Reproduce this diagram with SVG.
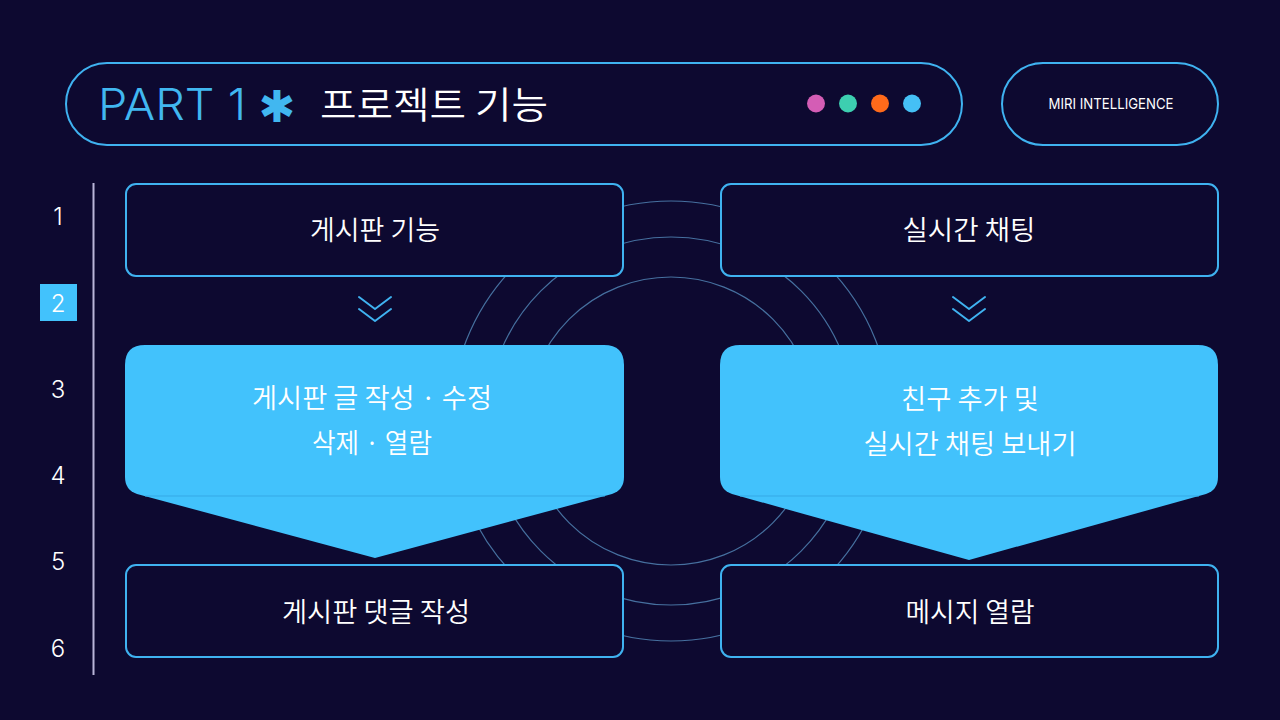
<svg xmlns="http://www.w3.org/2000/svg" width="1280" height="720" viewBox="0 0 1280 720">
  <defs>
    <style>
      .bg { fill: #0d0930; }
      .ring { fill: none; stroke: #46709f; stroke-width: 1.2; }
      .box { fill: #0d0930; stroke: #3fb2f0; stroke-width: 2; }
      .pill { fill: #0d0930; stroke: #3fb2f0; stroke-width: 2; }
      .hl { fill: #42c2fc; }
      .seam { stroke: #34a9e6; stroke-width: 1; }
      .chev { fill: none; stroke: #3fb2f0; stroke-width: 2; stroke-linecap: round; stroke-linejoin: round; }
      .ko { font-family: "Noto Sans CJK KR", "Noto Sans", sans-serif; fill: #ffffff; font-weight: 350; }
      .num { font-family: "Inter", "Liberation Sans", sans-serif; fill: #ffffff; font-weight: 300; font-size: 24px; text-anchor: middle; }
      .lbl { font-size: 27px; text-anchor: middle; }
    </style>
  </defs>

  <rect class="bg" x="0" y="0" width="1280" height="720"/>

  <!-- background rings -->
  <g id="rings">
    <circle class="ring" cx="671" cy="421" r="220"/>
    <circle class="ring" cx="671" cy="421" r="184"/>
    <circle class="ring" cx="671" cy="421" r="144"/>
  </g>

  <!-- header -->
  <g id="header">
    <rect class="pill" x="66" y="63" width="896" height="82" rx="41"/>
    <text x="98" y="120" font-family="Inter, 'Liberation Sans', sans-serif" font-weight="300" font-size="44" fill="#41b7f0" textLength="148" lengthAdjust="spacingAndGlyphs">PART 1</text>
    <text x="277" y="122" font-family="'DejaVu Sans', sans-serif" font-weight="700" font-size="44" fill="#41b7f0" text-anchor="middle">✱</text>
    <text class="ko" x="320" y="119" font-size="37" font-weight="400" textLength="228" lengthAdjust="spacingAndGlyphs">프로젝트 기능</text>
    <circle cx="816" cy="103.5" r="9" fill="#d45db5"/>
    <circle cx="848" cy="103.5" r="9" fill="#3dcfb0"/>
    <circle cx="880" cy="103.5" r="9" fill="#ff6a1a"/>
    <circle cx="912" cy="103.5" r="9" fill="#45c0f5"/>
  </g>

  <g id="brand">
    <rect class="pill" x="1002" y="63" width="216" height="82" rx="41"/>
    <text x="1111" y="108.5" font-family="Inter, 'Liberation Sans', sans-serif" font-size="15" fill="#ffffff" text-anchor="middle" textLength="125" lengthAdjust="spacingAndGlyphs">MIRI INTELLIGENCE</text>
  </g>

  <!-- step index -->
  <g id="steps">
    <line x1="93.5" y1="183" x2="93.5" y2="675" stroke="#b9b5d8" stroke-width="2"/>
    <rect x="40" y="284" width="37" height="37" fill="#42c2fc"/>
    <text class="num" x="58" y="225">1</text>
    <text class="num" x="58" y="311.5">2</text>
    <text class="num" x="58" y="398">3</text>
    <text class="num" x="58" y="484">4</text>
    <text class="num" x="58" y="570">5</text>
    <text class="num" x="58" y="656.5">6</text>
  </g>

  <!-- left column -->
  <g id="node-board">
    <rect class="box" x="126" y="184" width="497" height="92" rx="10"/>
    <text class="ko lbl" x="375" y="240" textLength="130" lengthAdjust="spacingAndGlyphs">게시판 기능</text>
  </g>

  <g id="node-board-crud">
    <path class="hl" d="M145,345 H604 Q624,345 624,365 V477 Q624,490 612,494 L375,558 L137,494 Q125,490 125,477 V365 Q125,345 145,345 Z"/>
    <line class="seam" x1="145" y1="496" x2="605" y2="496"/>
    <text class="ko lbl" x="372" y="408" textLength="240" lengthAdjust="spacingAndGlyphs">게시판 글 작성 · 수정</text>
    <text class="ko lbl" x="372" y="453" textLength="120" lengthAdjust="spacingAndGlyphs">삭제 · 열람</text>
  </g>

  <g id="node-board-comment">
    <rect class="box" x="126" y="565" width="497" height="92" rx="10"/>
    <text class="ko lbl" x="376" y="622" textLength="188" lengthAdjust="spacingAndGlyphs">게시판 댓글 작성</text>
  </g>

  <!-- right column -->
  <g id="node-chat">
    <rect class="box" x="721" y="184" width="497" height="92" rx="10"/>
    <text class="ko lbl" x="969" y="240" textLength="133" lengthAdjust="spacingAndGlyphs">실시간 채팅</text>
  </g>

  <g id="node-chat-send">
    <path class="hl" d="M740,345 H1198 Q1218,345 1218,365 V477 Q1218,490 1206,494 L969,560 L732,494 Q720,490 720,477 V365 Q720,345 740,345 Z"/>
    <line class="seam" x1="740" y1="496" x2="1199" y2="496"/>
    <text class="ko lbl" x="970" y="409" textLength="138" lengthAdjust="spacingAndGlyphs">친구 추가 및</text>
    <text class="ko lbl" x="970" y="454" textLength="213" lengthAdjust="spacingAndGlyphs">실시간 채팅 보내기</text>
  </g>

  <g id="node-message">
    <rect class="box" x="721" y="565" width="497" height="92" rx="10"/>
    <text class="ko lbl" x="970" y="622" textLength="129" lengthAdjust="spacingAndGlyphs">메시지 열람</text>
  </g>

  <!-- connectors -->
  <g id="connectors">
    <polyline class="chev" points="359,297 375,309 391,297"/>
    <polyline class="chev" points="359,309 375,321 391,309"/>
    <polyline class="chev" points="953,297 969,309 985,297"/>
    <polyline class="chev" points="953,309 969,321 985,309"/>
  </g>
</svg>
